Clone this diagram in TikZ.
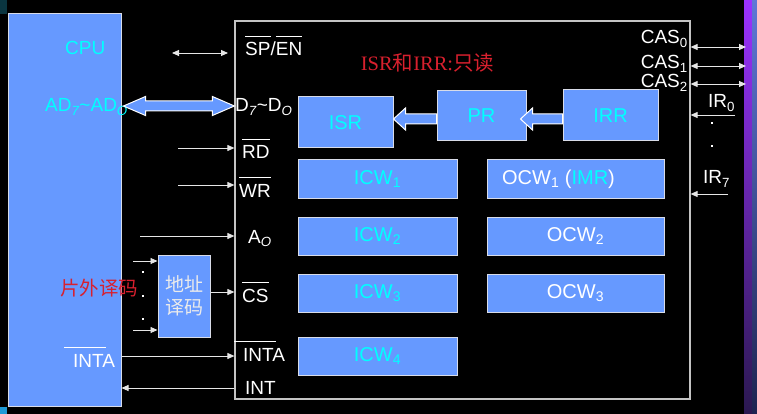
\documentclass[tikz,border=0pt]{standalone}
\usepackage{fontspec}
\setmainfont{Liberation Sans}
\newfontfamily\cjk{Noto Sans CJK SC}
\newfontfamily\serifl{Liberation Serif}
\usetikzlibrary{arrows.meta,calc}
\definecolor{boxblue}{HTML}{6699FF}
\definecolor{cyantext}{HTML}{00FFFF}
\definecolor{redtext}{HTML}{D8202E}
\definecolor{edge}{HTML}{D8DCE8}
\definecolor{wire}{HTML}{E6E6E6}
\definecolor{chipedge}{HTML}{C4C4C4}
\newcommand{\olbar}[2][0pt]{\setbox0\hbox{#2}\rlap{\kern-#1\raisebox{\dimexpr\ht0+6pt\relax}{\rule{\wd0}{1.2pt}}}\box0}
\begin{document}
\begin{tikzpicture}[x=1pt,y=-1pt,
  blk/.style={draw=edge, line width=1pt, fill=boxblue, inner sep=0pt},
  lbl/.style={text=white, inner sep=0pt, font=\fontsize{19}{22}\selectfont},
  boxtxt/.style={text=cyantext, font=\fontsize{20}{24}\selectfont},
  wirea/.style={draw=wire, line width=0.9pt, -{Triangle[length=7pt,width=6pt]}},
  wireb/.style={draw=wire, line width=0.9pt, {Triangle[length=7pt,width=6pt]}-{Triangle[length=7pt,width=6pt]}},
  fat/.style={fill=boxblue, draw=white, line width=1pt, line join=miter},
  dotm/.style={fill=white, minimum size=2pt, inner sep=0pt}]
\fill[black] (0,0) rectangle (757,414);
\useasboundingbox (0,0) rectangle (757,414);
% corner squares and right strips
\fill[fill={rgb,255:red,10;green,53;blue,64}] (0,0) rectangle (7,14);
\fill[fill={rgb,255:red,30;green,155;blue,215}] (0,407) rectangle (7,414);
\shade[top color={rgb,255:red,155;green,50;blue,255}, bottom color={rgb,255:red,42;green,24;blue,80}] (744,0) rectangle (752,414);
\shade[top color={rgb,255:red,95;green,120;blue,215}, bottom color={rgb,255:red,30;green,35;blue,80}] (752,0) rectangle (757,414);

% main boxes
\node[blk, draw=edge, minimum width=113pt, minimum height=392pt] (cpu) at (64.5,210) {};
\node[draw=chipedge, line width=1.2pt, minimum width=455pt, minimum height=378pt, inner sep=0pt] (chip) at (462.5,210) {};

% CPU labels
\node[lbl, text=cyantext, anchor=base west] (cpulbl) at (65,55) {CPU};
\node[lbl, text=cyantext, anchor=base west] (adlbl) at (45,112) {AD\textsubscript{\itshape 7}\textasciitilde AD\textsubscript{\itshape O}};
\node[lbl, anchor=base west] (intacpu) at (73,367) {\olbar[9pt]{INTA}};
\node[lbl, text=redtext, font=\cjk\fontsize{19.5}{22}\selectfont] (offchip) at (99,288) {片外译码};

% inner blocks
\node[blk, minimum width=95pt, minimum height=51pt, boxtxt] (isr) at (345.5,122.5) {ISR};
\node[blk, minimum width=89pt, minimum height=50pt, boxtxt] (pr) at (481.5,116) {PR};
\node[blk, minimum width=95pt, minimum height=51pt, boxtxt] (irr) at (610.5,115.5) {IRR};
\node[blk, minimum width=159pt, minimum height=38pt, boxtxt] (icw1) at (377.5,179) {ICW\textsubscript{1}};
\node[blk, minimum width=159pt, minimum height=38pt, boxtxt] (icw2) at (377.5,236) {ICW\textsubscript{2}};
\node[blk, minimum width=159pt, minimum height=38pt, boxtxt] (icw3) at (377.5,293) {ICW\textsubscript{3}};
\node[blk, minimum width=159pt, minimum height=38pt, boxtxt] (icw4) at (377.5,356) {ICW\textsubscript{4}};
\node[blk, minimum width=177pt, minimum height=38pt, boxtxt, text=white] (ocw1) at (575.5,179) {\hspace*{-34pt}OCW\textsubscript{1} ({\color{cyantext}IMR})};
\node[blk, minimum width=177pt, minimum height=38pt, boxtxt, text=white] (ocw2) at (575.5,236) {OCW\textsubscript{2}};
\node[blk, minimum width=177pt, minimum height=38pt, boxtxt, text=white] (ocw3) at (575.5,293) {OCW\textsubscript{3}};
\node[blk, minimum width=52pt, minimum height=82pt, align=center, text={rgb,255:red,235;green,235;blue,235}, font=\cjk\fontsize{19}{23}\selectfont] (dec) at (184,296) {地址\\译码};

% note
\node[inner sep=0pt, text=redtext, font=\fontsize{20.5}{24}\selectfont] (note) at (427.5,63) {\serifl ISR\cjk 和\serifl IRR:\cjk 只读};

% pin labels of the chip
\node[lbl, anchor=base west] (spen) at (245,56) {\olbar{SP}/\olbar{EN}};
\node[lbl, anchor=base west] (dd) at (235,112) {D\textsubscript{\itshape 7}\textasciitilde D\textsubscript{\itshape O}};
\node[lbl, anchor=base west] (rd) at (242,159) {\olbar{RD}};
\node[lbl, anchor=base west] (wr) at (239,197) {\olbar{WR}};
\node[lbl, anchor=base west] (a0) at (248,243) {A\textsubscript{\itshape O}};
\node[lbl, anchor=base west] (cs) at (242,302) {\olbar{CS}};
\node[lbl, anchor=base west] (inta) at (243,361) {\olbar[9pt]{INTA}};
\node[lbl, anchor=base west] (int) at (245,394) {INT};
\node[lbl, anchor=base east] (cas0) at (688,44) {CAS\textsubscript{0}};
\node[lbl, anchor=base east] (cas1) at (688,69) {CAS\textsubscript{1}};
\node[lbl, anchor=base east] (cas2) at (688,88) {CAS\textsubscript{2}};
\node[lbl, anchor=base west] (ir0) at (708,108) {IR\textsubscript{0}};
\node[lbl, anchor=base west] (ir7) at (703,184) {IR\textsubscript{7}};

% coordinates for connector rows
\coordinate (spa) at (172,53);
\coordinate (spb) at (228,53);
\coordinate (rdin) at (178,148);
\coordinate (wrin) at (178,185);
\coordinate (a0in) at (140,236);
\coordinate (csy) at (0,292);
\coordinate (intay) at (0,356);
\coordinate (inty) at (0,388);
\coordinate (deca) at (133,261);
\coordinate (decb) at (133,330);
\coordinate (cas0o) at (746,47);
\coordinate (cas1o) at (746,66);
\coordinate (cas2o) at (746,84);
\coordinate (ir0in) at (735,115);
\coordinate (ir7in) at (728,194);
\coordinate (ady) at (0,106);
\coordinate (ay) at (0,119);

% thin connectors
\draw[wireb] (spa) -- (spb);
\draw[wirea] (rdin) -- (rdin -| chip.west);
\draw[wirea] (wrin) -- (wrin -| chip.west);
\draw[wirea] (a0in) -- (a0in -| chip.west);
\draw[wirea] (dec.east |- csy) -- (chip.west |- csy);
\draw[wirea] (cpu.east |- intay) -- (chip.west |- intay);
\draw[wirea] (chip.west |- inty) -- (cpu.east |- inty);
\draw[wirea] (deca) -- (deca -| dec.west);
\draw[wirea] (decb) -- (decb -| dec.west);
\draw[wireb] (cas0o -| chip.east) -- (cas0o);
\draw[wireb] (cas1o -| chip.east) -- (cas1o);
\draw[wireb] (cas2o -| chip.east) -- (cas2o);
\draw[wirea] (ir0in) -- (ir0in -| chip.east);
\draw[wirea] (ir7in) -- (ir7in -| chip.east);

% dots
\node[dotm] (d1) at (143,272) {};
\node[dotm] (d2) at (143,296) {};
\node[dotm] (d3) at (143,319) {};
\node[dotm] (d4) at (712,123) {};
\node[dotm] (d5) at (712,146) {};

% fat data-bus arrow
\coordinate (bl) at ($(cpu.east |- ady)+(2,0)$);
\coordinate (br) at (chip.west |- ady);
\draw[fat] (bl) -- ++(22,-9.5) -- ++(0,4.5) -- ($(br)+(-22,-5)$) -- ++(0,-4.5) -- (br)
  -- ++(-22,9.5) -- ++(0,-4.5) -- ($(bl)+(22,5)$) -- ++(0,4.5) -- cycle;

% PR -> ISR
\coordinate (t1) at (isr.east |- ay);
\coordinate (t1e) at (pr.west |- ay);
\draw[fat] (t1) -- ++(12,-11) -- ++(0,6) -- ($(t1e)+(0,-5)$) -- ++(0,10) -- ($(t1)+(12,5)$) -- ++(0,6) -- cycle;

% IRR -> PR
\coordinate (t2) at ($(pr.east |- ay)+(-6,0)$);
\coordinate (t2e) at (irr.west |- ay);
\draw[fat] (t2) -- ++(12,-11) -- ++(0,6) -- ($(t2e)+(0,-5)$) -- ++(0,10) -- ($(t2)+(12,5)$) -- ++(0,6) -- cycle;
\end{tikzpicture}
\end{document}
